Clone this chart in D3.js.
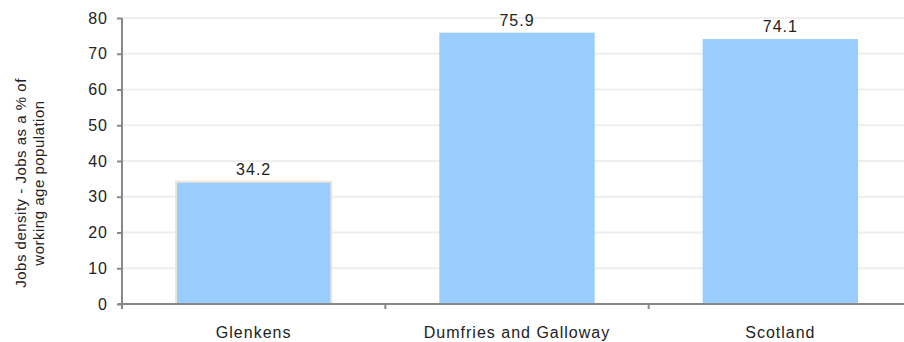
<!DOCTYPE html>
<html>
<head>
<meta charset="utf-8">
<script src="https://cdn.jsdelivr.net/npm/d3@7"></script>
<style>
  body { margin: 0; background: #fff; }
  svg { font-family: "Liberation Sans", Arial, sans-serif; }
</style>
</head>
<body>
<svg width="904" height="342"></svg>
<script>
// data
const categories = ["Glenkens", "Dumfries and Galloway", "Scotland"];
const values = [34.2, 75.9, 74.1];
const yTicks = [0, 10, 20, 30, 40, 50, 60, 70, 80];
const yTitle = ["Jobs density - Jobs as a % of", "working age population"];

const svg = d3.select("svg");
const margin = { top: 18, left: 122 };
const width = 790;          // plot runs a little past the right edge
const height = 286;

const g = svg.append("g").attr("transform", `translate(${margin.left},${margin.top})`);

const x = d3.scaleBand().domain(categories).range([0, width]).paddingInner(0.41).paddingOuter(0.205);
const y = d3.scaleLinear().domain([0, 80]).range([height, 0]);

const font = "Liberation Sans, Arial, sans-serif";

// gridlines
g.selectAll(".grid")
  .data(yTicks.slice(1))
  .join("line")
  .attr("x1", 0)
  .attr("x2", width)
  .attr("y1", d => y(d))
  .attr("y2", d => y(d))
  .attr("stroke", "#eeeeee")
  .attr("stroke-width", 2);

// bars
g.selectAll(".bar")
  .data(values)
  .join("rect")
  .attr("x", (d, i) => x(categories[i]))
  .attr("y", d => y(d))
  .attr("width", x.bandwidth())
  .attr("height", d => height - y(d))
  .attr("fill", "#99ccff")
  .attr("stroke", (d, i) => i === 0 ? "#ece6d8" : "none")
  .attr("stroke-width", 2);

// value labels
g.selectAll(".val")
  .data(values)
  .join("text")
  .attr("x", (d, i) => x(categories[i]) + x.bandwidth() / 2)
  .attr("y", d => y(d) - 7)
  .attr("text-anchor", "middle")
  .attr("font-size", 16)
  .attr("letter-spacing", 1)
  .attr("fill", "#222")
  .text(d => d.toFixed(1));

// y axis
const yAxis = g.append("g")
  .call(d3.axisLeft(y).tickValues(yTicks).tickSize(5).tickPadding(9));
yAxis.select(".domain").attr("stroke", "#888").attr("stroke-width", 2).attr("d", `M0,${height + 5}V0`);
yAxis.selectAll(".tick line").attr("stroke", "#888").attr("stroke-width", 2);
yAxis.selectAll("text").attr("font-size", 16).attr("letter-spacing", 1).attr("fill", "#222").attr("font-family", font);

// x axis
const xAxis = g.append("g")
  .attr("transform", `translate(0,${height})`)
  .call(d3.axisBottom(x).tickSize(0).tickPadding(23));
xAxis.select(".domain").attr("stroke", "#888").attr("stroke-width", 2).attr("d", `M-4,0H${width}`);
xAxis.selectAll("text").attr("font-size", 16).attr("letter-spacing", 1).attr("fill", "#222").attr("font-family", font);

// boundary ticks between categories
const gap = (x.step() - x.bandwidth()) / 2;
g.selectAll(".xb")
  .data(categories.slice(1))
  .join("line")
  .attr("x1", d => x(d) - gap)
  .attr("x2", d => x(d) - gap)
  .attr("y1", height)
  .attr("y2", height + 5)
  .attr("stroke", "#888")
  .attr("stroke-width", 2);

// y axis title
const title = svg.append("text")
  .attr("transform", "translate(26,183) rotate(-90)")
  .attr("text-anchor", "middle")
  .attr("font-size", 15)
  .attr("letter-spacing", 0.5)
  .attr("fill", "#222");
title.selectAll("tspan")
  .data(yTitle)
  .join("tspan")
  .attr("x", 0)
  .attr("dy", (d, i) => i === 0 ? 0 : 18)
  .text(d => d);
</script>
</body>
</html>
